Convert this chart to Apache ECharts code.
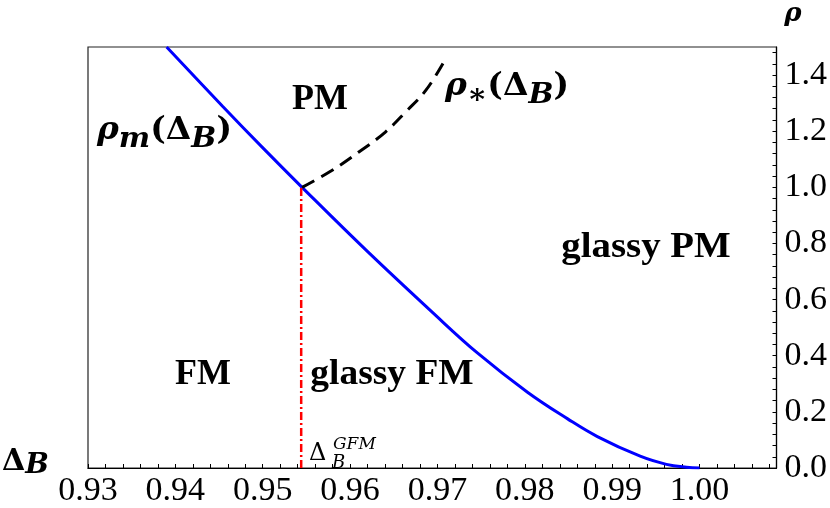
<!DOCTYPE html>
<html>
<head>
<meta charset="utf-8">
<script src="https://cdn.jsdelivr.net/npm/echarts@6/dist/echarts.min.js"></script>
<style>
html,body{margin:0;padding:0;background:#fff}
#main{width:830px;height:508px}
</style>
</head>
<body>
<div id="main"></div>
<script>
// rho_m(Delta_B) - blue boundary
var blueDelta = [0.9390, 0.9454, 0.9499, 0.9545, 0.9618, 0.9693, 0.9746, 0.9803, 0.9849, 0.9883, 0.9932, 0.9962, 0.9985, 1.0000];
var blueRho   = [1.500, 1.289, 1.144, 1.000, 0.777, 0.558, 0.409, 0.270, 0.175, 0.112, 0.042, 0.013, 0.0025, 0.000];
// rho_*(Delta_B) - black dashed
var dashDelta = [0.9545, 0.9579, 0.9610, 0.9640, 0.9664, 0.9687, 0.9709];
var dashRho   = [1.000, 1.060, 1.126, 1.196, 1.270, 1.347, 1.456];
// Delta_B^GFM - red dash-dot
var gfmDelta = [0.9544, 0.9544];
var gfmRho   = [0.0, 1.0];

var SERIF = 'Liberation Serif';
var MATH = 'DejaVu Serif';

function zip(a, b) {
    var out = [];
    for (var i = 0; i < a.length; i++) out.push([a[i], b[i]]);
    return out;
}
function isMultiple(v, step) {
    var k = v / step;
    return Math.abs(k - Math.round(k)) < 1e-6;
}

var richMath = {
    r: {fontFamily: MATH, fontSize: 31, fontStyle: 'italic', fontWeight: 'bold', lineHeight: 46, fill: '#000'},
    n: {fontFamily: MATH, fontSize: 31, fontWeight: 'bold', lineHeight: 46, fill: '#000'},
    s: {fontFamily: MATH, fontSize: 28, fontStyle: 'italic', fontWeight: 'bold', lineHeight: 26, verticalAlign: 'bottom', fill: '#000'}
};

function txt(x, y, text, size, align, opt) {
    opt = opt || {};
    return {
        type: 'text', x: x, y: y, z: 100,
        scaleX: opt.sx || 1,
        style: {
            text: text,
            fontFamily: opt.font || SERIF,
            fontSize: size,
            fontWeight: opt.weight || 'bold',
            fontStyle: opt.style || 'normal',
            fill: '#000',
            rich: opt.rich,
            align: align, textAlign: align,
            verticalAlign: 'middle', textVerticalAlign: 'middle'
        }
    };
}

var myChart = echarts.init(document.getElementById('main'));
var option = {
    animation: false,
    backgroundColor: '#fff',
    grid: {left: 88, right: 50, top: 47, bottom: 34, show: true, borderColor: '#222', borderWidth: 1.2},
    xAxis: {
        type: 'value', min: 0.93, max: 1.0088, interval: 0.002,
        splitLine: {show: false},
        axisLine: {lineStyle: {color: '#000', width: 1.2}},
        axisTick: {inside: true, length: 4, lineStyle: {color: '#000'}},
        axisLabel: {
            color: '#000', fontFamily: SERIF, fontSize: 34, margin: 6,
            showMaxLabel: false,
            formatter: function (v) { return isMultiple(v, 0.01) ? v.toFixed(2) : ''; }
        }
    },
    yAxis: {
        type: 'value', position: 'right', min: 0, max: 1.5, interval: 0.04,
        splitLine: {show: false},
        axisLine: {lineStyle: {color: '#000', width: 1.2}},
        axisTick: {inside: true, length: 4, lineStyle: {color: '#000'}},
        axisLabel: {
            color: '#000', fontFamily: SERIF, fontSize: 34, margin: 8,
            showMaxLabel: false,
            formatter: function (v) { return isMultiple(v, 0.2) ? v.toFixed(1) : ''; }
        }
    },
    series: [
        {
            type: 'line', data: zip(blueDelta, blueRho), smooth: 0.4,
            showSymbol: false, lineStyle: {color: '#0000ff', width: 3}
        },
        {
            type: 'line', data: zip(dashDelta, dashRho), smooth: 0.4,
            showSymbol: false, lineStyle: {color: '#000', width: 3, type: [14, 8]}
        },
        {
            type: 'line', data: zip(gfmDelta, gfmRho),
            showSymbol: false, lineStyle: {color: '#ff0000', width: 2.5, type: [8, 3, 2, 3]}
        }
    ],
    graphic: [
        txt(320, 100, 'PM', 36, 'center'),
        txt(203, 375, 'FM', 36, 'center'),
        txt(392, 375, 'glassy FM', 36, 'center', {sx: 1.04}),
        txt(646, 248, 'glassy PM', 36, 'center', {sx: 1.08}),
        txt(97, 131, '{r|ρ}{s|m}{n|(Δ}{s|B}{n|)}', 31, 'left', {rich: richMath, font: MATH, sx: 1.06}),
        txt(445, 87, '{r|ρ}{s|∗}{n|(Δ}{s|B}{n|)}', 31, 'left', {rich: richMath, font: MATH, sx: 1.06}),
        txt(2, 462, '{n|Δ}{s|B}', 29, 'left', {font: MATH, rich: {
            n: {fontFamily: MATH, fontSize: 30, fontWeight: 'bold', lineHeight: 36, fill: '#000'},
            s: {fontFamily: MATH, fontSize: 28, fontStyle: 'italic', fontWeight: 'bold', lineHeight: 22, verticalAlign: 'bottom', fill: '#000'}
        }}),
        txt(793, 14, 'ρ', 26, 'center', {style: 'italic', font: MATH}),
        txt(309, 454, 'Δ', 24, 'left', {weight: 'normal', font: MATH}),
        txt(332, 463, 'B', 18, 'left', {weight: 'normal', style: 'italic', font: MATH}),
        txt(333, 445, 'GFM', 17, 'left', {weight: 'normal', style: 'italic', font: MATH})
    ]
};
myChart.setOption(option);

window.addEventListener('resize', function () { myChart.resize(); });
</script>
</body>
</html>
